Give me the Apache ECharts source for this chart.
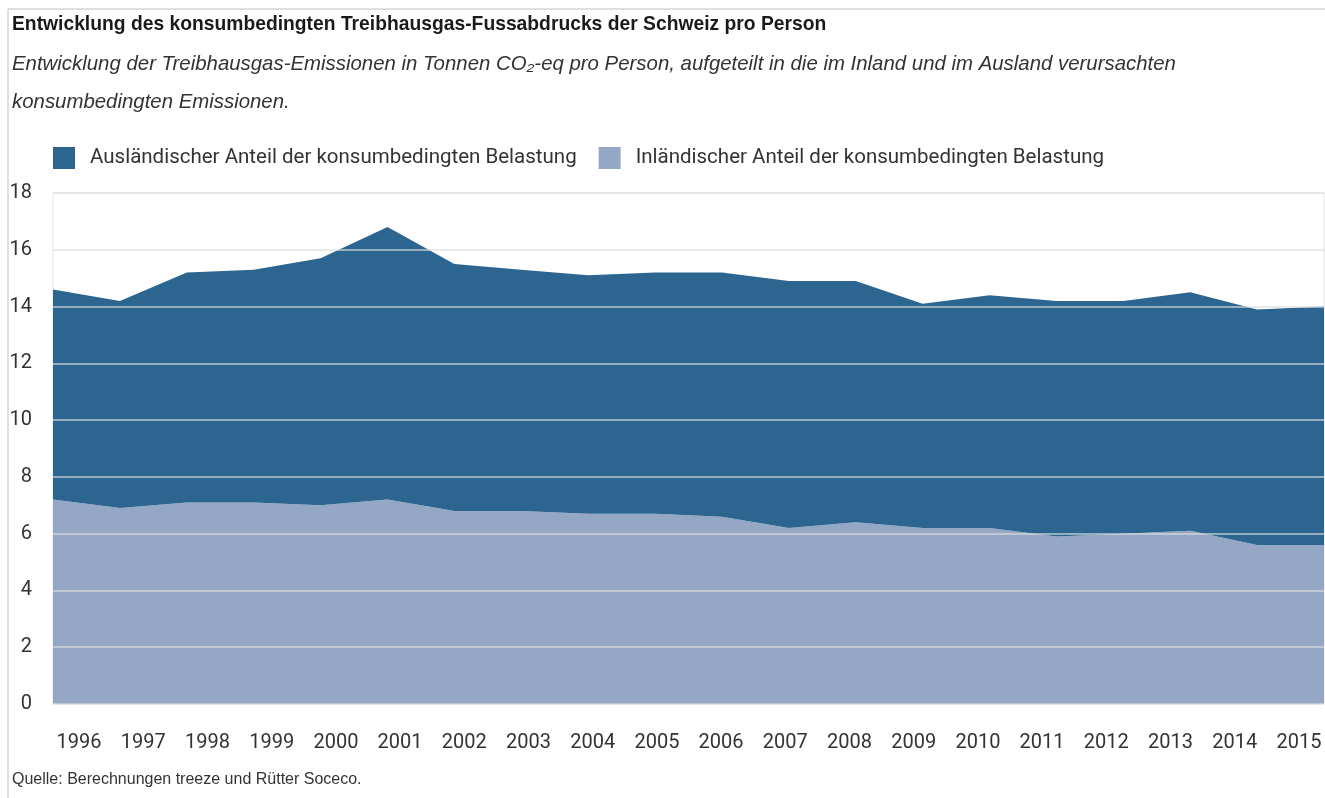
<!DOCTYPE html>
<html>
<head>
<meta charset="utf-8">
<title>Treibhausgas-Fussabdruck Schweiz</title>
<script src="https://cdn.jsdelivr.net/npm/echarts@6/dist/echarts.min.js"></script>
<style>
  html, body { margin: 0; padding: 0; background: #fff; }
  #chart { width: 1325px; height: 798px; }
</style>
</head>
<body>
<div id="chart"></div>
<script>
// Jahre (Kategorien)
var years = ['1996', '1997', '1998', '1999', '2000', '2001', '2002', '2003', '2004', '2005',
             '2006', '2007', '2008', '2009', '2010', '2011', '2012', '2013', '2014', '2015'];

// Tonnen CO2-eq pro Person, im Inland verursacht
var inland = [7.2, 6.9, 7.1, 7.1, 7.0, 7.2, 6.8, 6.8, 6.7, 6.7,
              6.6, 6.2, 6.4, 6.2, 6.2, 5.9, 6.0, 6.1, 5.6, 5.6];

// Tonnen CO2-eq pro Person, im Ausland verursacht
var ausland = [7.4, 7.3, 8.1, 8.2, 8.7, 9.6, 8.7, 8.5, 8.4, 8.5,
               8.6, 8.7, 8.5, 7.9, 8.2, 8.3, 8.2, 8.4, 8.3, 8.4];

var yTicks = { min: 0, max: 18, interval: 2 };

var seriesNames = {
    ausland: 'Ausländischer Anteil der konsumbedingten Belastung',
    inland: 'Inländischer Anteil der konsumbedingten Belastung'
};

var FONT = 'Roboto, "Liberation Sans", sans-serif';
var FONT_WIDE = '"Liberation Sans", Arial, sans-serif';
var DARK = '#2c6690';
var LIGHT = '#94a8c6';

var myChart = echarts.init(document.getElementById('chart'), null, { renderer: 'canvas' });

var option = {
    backgroundColor: '#ffffff',
    animation: false,
    textStyle: { fontFamily: FONT },
    title: [
        {
            text: 'Entwicklung des konsumbedingten Treibhausgas-Fussabdrucks der Schweiz pro Person',
            left: 12,
            top: 15,
            padding: 0,
            textStyle: { fontFamily: FONT_WIDE, fontSize: 19.3, fontWeight: 'bold', color: '#1a1a1a' }
        },
        {
            text: 'Entwicklung der Treibhausgas-Emissionen in Tonnen CO₂-eq pro Person, aufgeteilt in die im Inland und im Ausland verursachten\nkonsumbedingten Emissionen.',
            left: 12,
            top: 45,
            padding: 0,
            textStyle: { fontFamily: FONT_WIDE, fontSize: 20.4, fontStyle: 'italic', fontWeight: 'normal',
                         color: '#333', lineHeight: 38 }
        }
    ],
    legend: {
        left: 53,
        top: 147,
        padding: 0,
        itemWidth: 22,
        itemHeight: 22,
        itemGap: 22,
        icon: 'rect',
        data: [seriesNames.ausland, seriesNames.inland],
        textStyle: { fontFamily: FONT, fontSize: 20.5, color: '#333', padding: [0, 0, 0, 10] }
    },
    grid: [
        {
            left: 53, right: 1, top: 193, bottom: 94,
            show: true, borderColor: '#e3e3e3', borderWidth: 1,
            outerBoundsMode: 'none'
        },
        {
            // nur für die Jahresbeschriftungen
            left: 47, width: 1284, top: 193, bottom: 94,
            outerBoundsMode: 'none'
        }
    ],
    xAxis: [
        {
            type: 'category',
            gridIndex: 0,
            boundaryGap: false,
            data: years,
            axisLine: { show: false },
            axisTick: { show: false },
            axisLabel: { show: false },
            splitLine: { show: false }
        },
        {
            type: 'category',
            gridIndex: 1,
            boundaryGap: true,
            data: years,
            axisLine: { show: false },
            axisTick: { show: false },
            splitLine: { show: false },
            axisLabel: {
                interval: 0,
                margin: 29,
                fontFamily: FONT,
                fontSize: 20,
                color: '#333'
            }
        }
    ],
    yAxis: [
        {
            type: 'value',
            gridIndex: 0,
            min: yTicks.min,
            max: yTicks.max,
            interval: yTicks.interval,
            z: 5,
            axisLine: { show: false },
            axisTick: { show: false },
            axisLabel: { margin: 21, fontFamily: FONT, fontSize: 20, color: '#333' },
            splitLine: { show: true, lineStyle: { color: 'rgba(222,222,222,0.8)', width: 1.5 } }
        },
        {
            type: 'value',
            gridIndex: 1,
            show: false
        }
    ],
    graphic: [
        {
            type: 'line',
            shape: { x1: 8, y1: 9, x2: 1325, y2: 9 },
            style: { stroke: '#d4d4d4', lineWidth: 1.5 }
        },
        {
            type: 'line',
            shape: { x1: 8, y1: 9, x2: 8, y2: 798 },
            style: { stroke: '#d4d4d4', lineWidth: 1.5 }
        },
        {
            type: 'text',
            left: 12,
            top: 772,
            style: {
                text: 'Quelle: Berechnungen treeze und Rütter Soceco.',
                font: '16px ' + FONT_WIDE,
                fill: '#333'
            }
        }
    ],
    series: [
        {
            name: seriesNames.inland,
            type: 'line',
            stack: 'total',
            xAxisIndex: 0,
            yAxisIndex: 0,
            data: inland,
            showSymbol: false,
            color: LIGHT,
            lineStyle: { width: 0 },
            areaStyle: { color: LIGHT, opacity: 1 }
        },
        {
            name: seriesNames.ausland,
            type: 'line',
            stack: 'total',
            xAxisIndex: 0,
            yAxisIndex: 0,
            data: ausland,
            showSymbol: false,
            color: DARK,
            lineStyle: { width: 0 },
            areaStyle: { color: DARK, opacity: 1 }
        }
    ]
};

if (option && typeof option === 'object') {
    myChart.setOption(option, true);
}
</script>
</body>
</html>
